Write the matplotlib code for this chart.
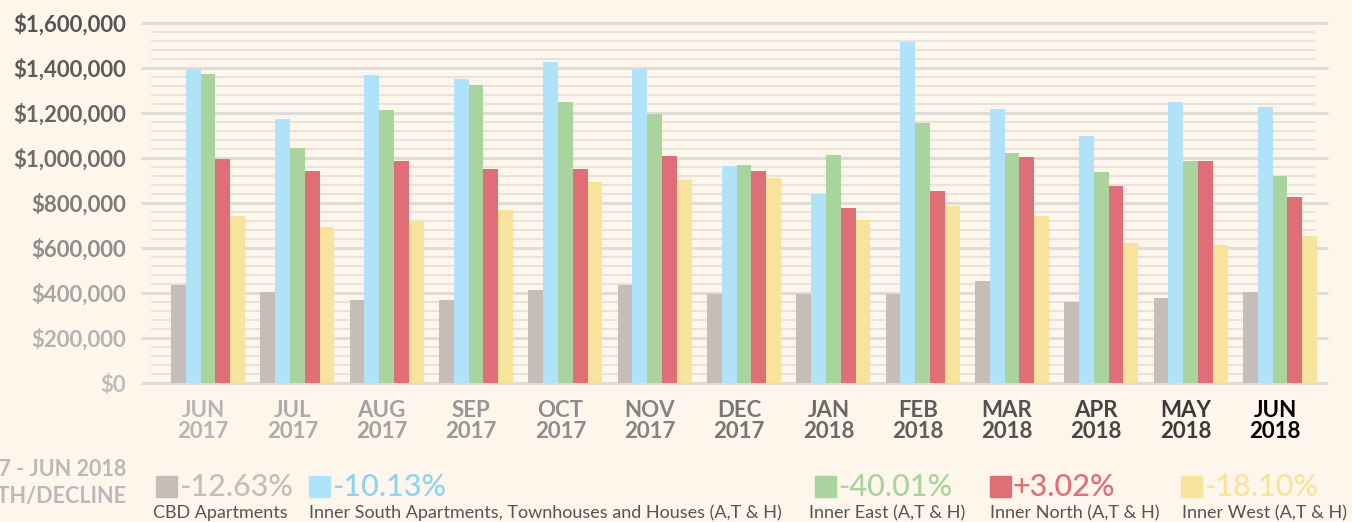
import numpy as np
import matplotlib.pyplot as plt
from matplotlib.patches import Rectangle

# 월별 중위 가격 (A,T & H), 그림에서 읽은 값
months = ["JUN", "JUL", "AUG", "SEP", "OCT", "NOV", "DEC",
          "JAN", "FEB", "MAR", "APR", "MAY", "JUN"]
years = ["2017"] * 7 + ["2018"] * 6
cbd = [434000, 403000, 368000, 368000, 412000, 434000, 395000,
       395000, 395000, 452000, 359000, 377000, 403000]
inner_south = [1395000, 1173000, 1367000, 1349000, 1425000, 1395000, 965000,
               841000, 1517000, 1217000, 1097000, 1248000, 1226000]
inner_east = [1372000, 1044000, 1212000, 1323000, 1248000, 1195000, 969000,
              1013000, 1155000, 1022000, 938000, 987000, 921000]
inner_north = [997000, 943000, 987000, 952000, 952000, 1009000, 943000,
               779000, 854000, 1005000, 876000, 987000, 828000]
inner_west = [744000, 695000, 714000, 770000, 894000, 903000, 912000,
              726000, 788000, 744000, 620000, 611000, 651000]
growth = ["-12.63%", "-10.13%", "-40.01%", "+3.02%", "-18.10%"]
names = ["CBD Apartments",
         "Inner South Apartments, Townhouses and Houses (A,T & H)",
         "Inner East (A,T & H)", "Inner North (A,T & H)", "Inner West (A,T & H)"]
y_ticks = list(range(0, 1600001, 200000))

bar_colors = ["#c6bdb8", "#b0e2f9", "#a9d49e", "#e06e76", "#f8e39c"]
pct_colors = ["#c6bdb8", "#8dd4f3", "#a9d49e", "#e06e76", "#f8e39c"]
ytick_colors = ["#bdbdbd", "#b3b3b3", "#a6a6a6", "#8e8e8e", "#7c7c7c",
                "#6e6e6e", "#666666", "#5c5c5c", "#555555"]
xtick_colors = ["#b5b5b5", "#ababab", "#a1a1a1", "#979797", "#8d8d8d", "#838383",
                "#767676", "#6a6a6a", "#5e5e5e", "#525252", "#464646", "#3a3a3a", "#000000"]
BG = "#fef5eb"

plt.rcParams['font.family'] = ['Lato', 'DejaVu Sans']

W, H = 1352, 522
fig = plt.figure(figsize=(W / 100, H / 100), dpi=100, facecolor=BG)
ax = fig.add_axes([141 / W, 1 - 383 / H, (1328 - 141) / W, (383 - 22.9) / H])
ax.set_facecolor(BG)

x = np.arange(len(months))
w = 0.1657
series = [cbd, inner_south, inner_east, inner_north, inner_west]
for k, vals in enumerate(series):
    ax.bar(x + (k - 2) * w, vals, width=w, color=bar_colors[k], zorder=3)

ax.set_xlim(-0.75, 12.538)
ax.set_ylim(0, 1600000)

# 격자선: 굵은 선은 20만 단위, 가는 선은 4만 단위
minor = [v for v in range(0, 1600001, 40000) if v % 200000]
ax.hlines(minor, -0.638, 12.392, colors="#e4e1dc", linewidth=1.3, zorder=1, clip_on=False)
ax.hlines(y_ticks, -0.75, 12.538, colors="#dcdbd8", linewidth=2.0, zorder=1, clip_on=False)

for s in ax.spines.values():
    s.set_visible(False)

ax.set_yticks(y_ticks)
ax.set_yticklabels([f"${v:,.0f}" for v in y_ticks], fontsize=16, fontweight="bold")
for lab, c in zip(ax.get_yticklabels(), ytick_colors):
    lab.set_color(c)

ax.set_xticks(x - 0.055)
ax.set_xticklabels([f"{m}\n{yr}" for m, yr in zip(months, years)],
                   fontsize=16, fontweight="bold", linespacing=1.0)
for lab, c in zip(ax.get_xticklabels(), xtick_colors):
    lab.set_color(c)
ax.tick_params(axis="y", length=0, pad=10.5)
ax.tick_params(axis="x", length=0, pad=12.5)

# 하단 범례 (왼쪽 제목은 원본처럼 가장자리에서 잘림)
fig.text(126 / W, 1 - 470 / H, "JUN 2017 - JUN 2018", ha="right", va="center",
         fontsize=15.5, fontweight="bold", color="#b9b9b9")
fig.text(126 / W, 1 - 496 / H, "GROWTH/DECLINE", ha="right", va="center",
         fontsize=15.5, fontweight="bold", color="#b9b9b9")

sq_x = [156, 309, 815, 990, 1181]
lab_x = [153, 309, 809, 990, 1182]
for k in range(5):
    fig.add_artist(Rectangle((sq_x[k] / W, 1 - 497 / H), 21 / W, 21 / H,
                             transform=fig.transFigure, color=bar_colors[k]))
    fig.text((sq_x[k] + 23) / W, 1 - 487 / H, growth[k], ha="left", va="center",
             fontsize=22, fontweight="medium", color=pct_colors[k])
    fig.text(lab_x[k] / W, 1 - 513 / H, names[k], ha="left", va="center",
             fontsize=13, color="#555555")

fig.savefig("out.png", dpi=100, facecolor=BG)
